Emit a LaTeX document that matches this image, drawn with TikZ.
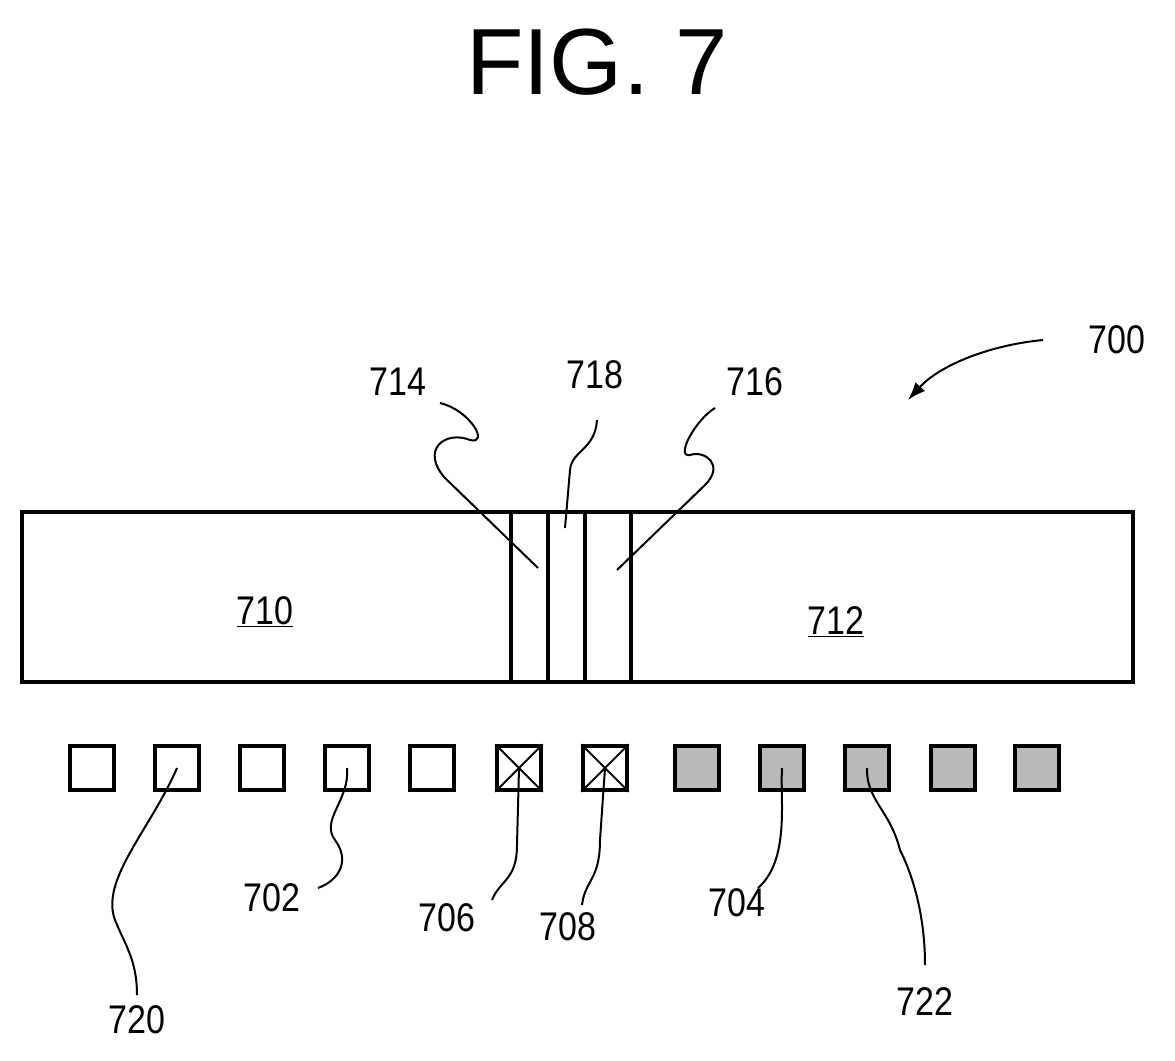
\documentclass[tikz,border=0pt]{standalone}
\usepackage{fontspec}
\setmainfont{Liberation Sans}
\usetikzlibrary{arrows.meta}
\begin{document}
\begin{tikzpicture}[x=1pt,y=-1pt,
 lbl/.style={font=\fontsize{40}{40}\selectfont,xscale=0.85},
 lead/.style={line width=2pt},
 sq/.style={draw,line width=3.5pt,minimum size=44pt,inner sep=0pt}]
\useasboundingbox (0,0) rectangle (1175,1060);
\node[font=\fontsize{94}{94}\selectfont] (fig) at (597,62) {FIG. 7};
\draw[line width=3.5pt] (22,512) rectangle (1133,682);
\foreach \x in {511,548,585,631}{\draw[line width=3.5pt] (\x,512) -- (\x,682);}
\node[lbl] (l710) at (265,612) {\underline{710}};
\node[lbl] (l712) at (836,622) {\underline{712}};
\foreach[count=\i] \x in {92,177,262,347,432,519,605,697,782,867,953,1037}{
 \ifnum\i>7 \node[sq,fill=gray!55] (s\i) at (\x,768) {};
 \else \node[sq] (s\i) at (\x,768) {}; \fi}
\foreach \i in {6,7}{\draw[line width=2pt] (s\i.north west)--(s\i.south east) (s\i.north east)--(s\i.south west);}
\node[lbl] (l714) at (398,382) {714};
\node[lbl] (l718) at (595,375) {718};
\node[lbl] (l716) at (755,382) {716};
\node[lbl] (l700) at (1117,340) {700};
\node[lbl] (l702) at (272,898) {702};
\node[lbl] (l706) at (447,918) {706};
\node[lbl] (l708) at (568,927) {708};
\node[lbl] (l704) at (737,903) {704};
\node[lbl] (l720) at (137,1020) {720};
\node[lbl] (l722) at (925,1002) {722};
\coordinate (a714) at (538,568);
\coordinate (a718) at (565,528);
\coordinate (a716) at (617,570);
\draw[lead] (a714) -- (445,478) .. controls (420,450) and (445,430) .. (470,440) .. controls (490,445) and (470,410) .. (440,403);
\draw[lead] (a718) -- (570,470) .. controls (572,450) and (595,450) .. (597,420);
\draw[lead] (a716) -- (705,485) .. controls (725,465) and (705,450) .. (690,455) .. controls (675,458) and (695,420) .. (715,408);
\draw[lead,-{Latex[length=18pt,width=13pt]}] (1043,340) .. controls (990,345) and (940,365) .. (908,400);
\draw[lead] (s2.center) .. controls (150,830) and (100,880) .. (115,920) .. controls (125,945) and (137,960) .. (137,995);
\draw[lead] (s4.center) .. controls (350,800) and (320,820) .. (335,840) .. controls (350,860) and (340,880) .. (318,888);
\draw[lead] (s6.center) -- (517,845) .. controls (517,880) and (500,880) .. (492,900);
\draw[lead] (s7.center) -- (600,840) .. controls (600,880) and (585,880) .. (582,905);
\draw[lead] (s9.center) .. controls (780,800) and (790,860) .. (758,888);
\draw[lead] (s10.center) .. controls (866,800) and (890,810) .. (900,850) .. controls (915,880) and (925,920) .. (925,965);
\end{tikzpicture}
\end{document}
